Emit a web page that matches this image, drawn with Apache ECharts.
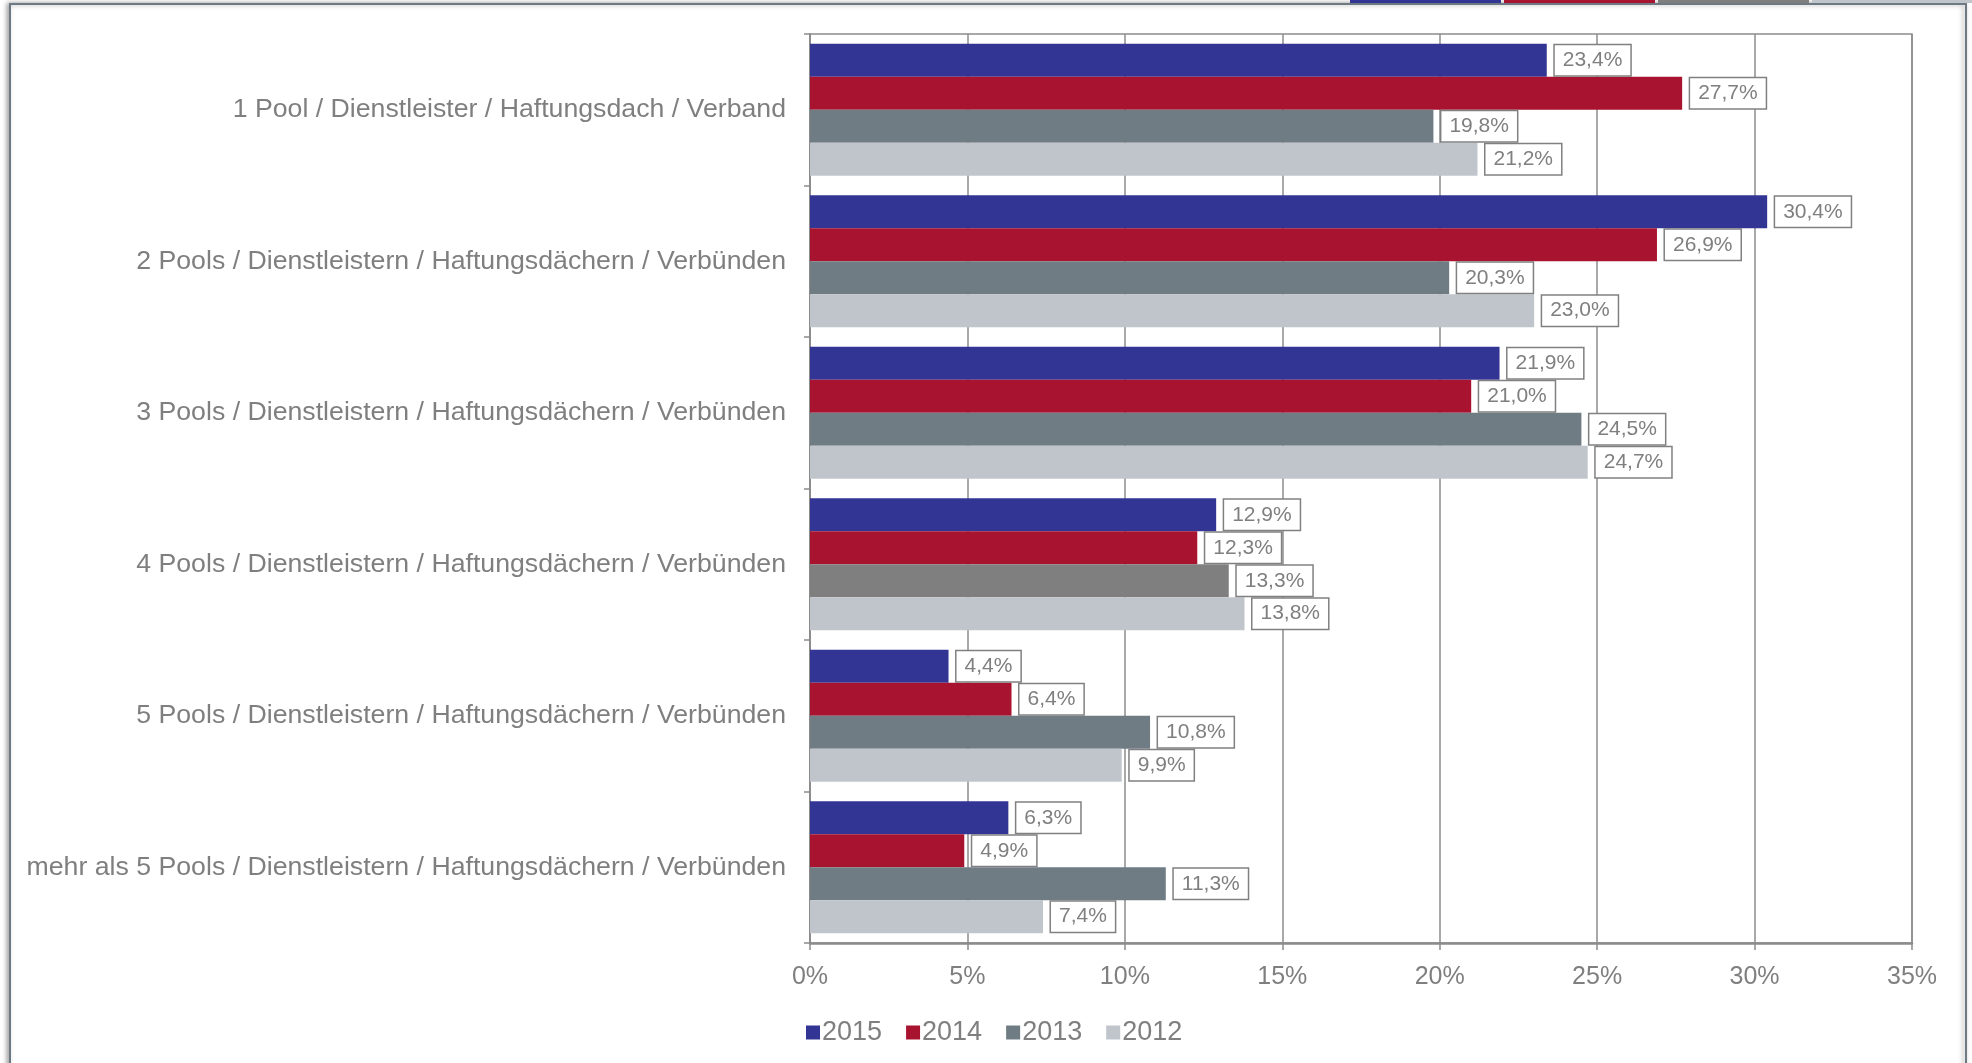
<!DOCTYPE html>
<html>
<head>
<meta charset="utf-8">
<script src="https://cdn.jsdelivr.net/npm/echarts@6/dist/echarts.min.js"></script>
<style>
  html, body { margin: 0; padding: 0; background: #fff; }
  #chart { width: 1972px; height: 1063px; }
</style>
</head>
<body>
<div id="chart"></div>
<script>
// Anzahl genutzter Pools / Dienstleister / Haftungsdächer / Verbünde (Anteil in %)
const categories = [
  '1 Pool / Dienstleister / Haftungsdach / Verband',
  '2 Pools / Dienstleistern / Haftungsdächern / Verbünden',
  '3 Pools / Dienstleistern / Haftungsdächern / Verbünden',
  '4 Pools / Dienstleistern / Haftungsdächern / Verbünden',
  '5 Pools / Dienstleistern / Haftungsdächern / Verbünden',
  'mehr als 5 Pools / Dienstleistern / Haftungsdächern / Verbünden'
];
const years = ['2015', '2014', '2013', '2012'];
const values2015 = [23.4, 30.4, 21.9, 12.9, 4.4, 6.3];
const values2014 = [27.7, 26.9, 21.0, 12.3, 6.4, 4.9];
const values2013 = [19.8, 20.3, 24.5, 13.3, 10.8, 11.3];
const values2012 = [21.2, 23.0, 24.7, 13.8, 9.9, 7.4];
const xTicks = [0, 5, 10, 15, 20, 25, 30, 35];

const seriesValues = [values2015, values2014, values2013, values2012];
const colors = ['#333594', '#A81430', '#707C84', '#C0C4CB'];
const FONT = '"Liberation Sans", Arial, sans-serif';
const TEXT = '#7f7f7f';
const LINE = '#8c8c8c';

const fmt = v => v.toFixed(1).replace('.', ',') + '%';

const chart = echarts.init(document.getElementById('chart'), null, { renderer: 'canvas' });

const series = years.map((y, si) => ({
  name: y,
  type: 'bar',
  barGap: '0%',
  barCategoryGap: '13%',
  itemStyle: { color: colors[si] },
  data: seriesValues[si].map((v, ci) => {
    // the 2013 bar of the fourth group is drawn in a neutral grey
    if (si === 2 && ci === 3) return { value: v, itemStyle: { color: '#7f7f7f' } };
    return v;
  }),
  label: {
    show: true,
    position: 'right',
    distance: 8,
    formatter: p => fmt(p.value),
    fontFamily: FONT,
    fontSize: 21,
    color: TEXT,
    backgroundColor: '#fff',
    borderColor: '#808080',
    borderWidth: 1.5,
    padding: [5, 8, 4, 8]
  }
}));

chart.setOption({
  animation: false,
  backgroundColor: '#fff',
  textStyle: { fontFamily: FONT },
  graphic: [
    // frame around the chart
    {
      type: 'rect', silent: true, z: -10,
      shape: { x: 10, y: 4, width: 1956, height: 1080 },
      style: {
        fill: '#fff', stroke: '#6e7a83', lineWidth: 2,
        shadowColor: 'rgba(0,0,0,0.35)', shadowBlur: 5, shadowOffsetX: -2, shadowOffsetY: 0
      }
    },
    // coloured strip along the top edge
    { type: 'rect', silent: true, shape: { x: 1350, y: 0, width: 151, height: 3 }, style: { fill: colors[0] } },
    { type: 'rect', silent: true, shape: { x: 1504, y: 0, width: 151, height: 3 }, style: { fill: colors[1] } },
    { type: 'rect', silent: true, shape: { x: 1658, y: 0, width: 151, height: 3 }, style: { fill: '#7f7f7f' } },
    { type: 'rect', silent: true, shape: { x: 1812, y: 0, width: 160, height: 3 }, style: { fill: colors[3] } }
  ],
  grid: {
    left: 810, right: 60, top: 34, bottom: 120,
    show: true, borderColor: LINE, borderWidth: 1.5, backgroundColor: 'transparent'
  },
  legend: {
    data: years,
    left: 801, top: 1014,
    icon: 'rect', itemWidth: 14, itemHeight: 14, itemGap: 24,
    textStyle: { fontFamily: FONT, fontSize: 27, color: TEXT, padding: [0, 0, 0, -3] }
  },
  xAxis: {
    type: 'value',
    min: xTicks[0], max: xTicks[xTicks.length - 1], interval: 5,
    axisLine: { show: true, lineStyle: { color: LINE, width: 2.5 } },
    axisTick: { show: true, length: 7, lineStyle: { color: LINE, width: 1.5 } },
    splitLine: { show: true, lineStyle: { color: LINE, width: 1.5 } },
    axisLabel: {
      fontFamily: FONT, fontSize: 25, color: TEXT, margin: 22,
      formatter: v => v + '%'
    }
  },
  yAxis: {
    type: 'category',
    data: categories,
    inverse: true,
    axisLine: { show: true, lineStyle: { color: LINE, width: 2 } },
    axisTick: { show: true, length: 6, lineStyle: { color: LINE, width: 1.5 } },
    axisLabel: { fontFamily: FONT, fontSize: 26.7, color: TEXT, margin: 24 }
  },
  series: series
});
</script>
</body>
</html>
